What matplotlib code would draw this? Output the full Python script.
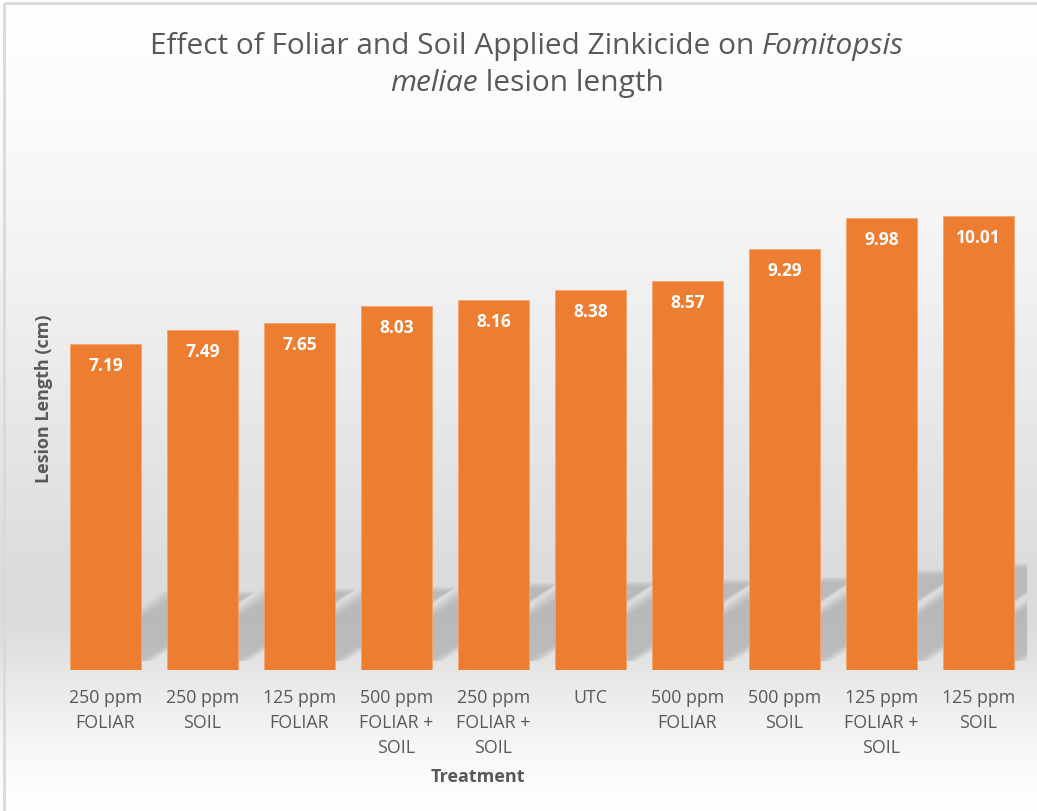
import numpy as np
import matplotlib
matplotlib.use("Agg")
import matplotlib.pyplot as plt
from matplotlib.patches import Polygon, Rectangle
from matplotlib.offsetbox import TextArea, HPacker, VPacker, AnchoredOffsetbox

# data
treatments = ["250 ppm\nFOLIAR", "250 ppm\nSOIL", "125 ppm\nFOLIAR",
              "500 ppm\nFOLIAR +\nSOIL", "250 ppm\nFOLIAR +\nSOIL", "UTC",
              "500 ppm\nFOLIAR", "500 ppm\nSOIL", "125 ppm\nFOLIAR +\nSOIL",
              "125 ppm\nSOIL"]
lesion_cm = [7.19, 7.49, 7.65, 8.03, 8.16, 8.38, 8.57, 9.29, 9.98, 10.01]

FONT = ["Open Sans", "DejaVu Sans"]
GREY_TXT = "#595959"
ORANGE = "#ED7D31"
W, H = 1037, 811

fig = plt.figure(figsize=(W / 100, H / 100), dpi=100)

# background gradient (Excel style "floor" look)
bg = fig.add_axes([0, 0, 1, 1], zorder=-10)
stops_y = [0, 120, 300, 450, 560, 620, 672, 700, 760, 811]
stops_v = [255, 251, 240, 229, 221, 219, 230, 237, 249, 255]
col = np.interp(np.arange(H), stops_y, stops_v) / 255.0
img = np.repeat(col[:, None], 4, axis=1)
bg.imshow(np.dstack([img, img, img]), aspect="auto", extent=[0, W, H, 0])
bg.add_patch(Rectangle((4, 3), W + 10, H + 10, fill=False, edgecolor="#d9d9d9", lw=2))
bg.set_xlim(0, W)
bg.set_ylim(H, 0)
bg.axis("off")

ax = fig.add_axes([57 / W, 141 / H, 970 / W, 544 / H])
ax.set_facecolor("none")
x = np.arange(len(lesion_cm))
bw = 0.73

# diagonal perspective shadows, soft edges from stacked translucent layers
for xi, v in zip(x, lesion_cm):
    dx, dh = 0.15 * v, 0.225 * v
    for k in np.linspace(0.12, 0.0, 7):
        xl, xr = xi - bw / 2, xi + bw / 2 + k
        poly = Polygon([(xl, 0.2), (xr, 0.2), (xr + dx, dh + k), (xl + dx - k, dh + k)],
                       closed=True, facecolor="#9a9a9a", edgecolor="none",
                       alpha=0.09, zorder=1)
        ax.add_patch(poly)

bars = ax.bar(x, lesion_cm, width=bw, color=ORANGE, edgecolor="#f2a56e",
              linewidth=0.6, zorder=3)
for b, v in zip(bars, lesion_cm):
    ax.annotate(f"{v:.2f}", (b.get_x() + b.get_width() / 2, v),
                xytext=(0, -22), textcoords="offset pixels",
                ha="center", va="center", color="white",
                fontsize=12.5, fontweight="bold", family=FONT, zorder=4)

ax.set_xlim(-0.5, len(lesion_cm) - 0.5)
ax.set_ylim(0, 12)
ax.set_xticks(x)
ax.set_xticklabels(treatments, family=FONT, fontsize=12.8, color=GREY_TXT,
                   linespacing=1.5)
ax.tick_params(axis="x", length=0, pad=14)
ax.set_yticks([])
for s in ax.spines.values():
    s.set_visible(False)

fig.text(478 / W, 1 - 777 / H, "Treatment", ha="center", va="center",
         family=FONT, fontsize=13, fontweight="bold", color=GREY_TXT)
fig.text(44 / W, 1 - 399 / H, "Lesion Length (cm)", ha="center", va="center",
         rotation=90, family=FONT, fontsize=13, fontweight="bold", color=GREY_TXT)

# title with italic species name
tp = dict(family=FONT, fontsize=21.5, color=GREY_TXT)
ti = dict(tp, style="italic")
line1 = HPacker(children=[TextArea("Effect of Foliar and Soil Applied Zinkicide on ", textprops=tp),
                          TextArea("Fomitopsis", textprops=ti)], align="baseline", pad=0, sep=0)
line2 = HPacker(children=[TextArea("meliae", textprops=ti),
                          TextArea(" lesion length", textprops=tp)], align="baseline", pad=0, sep=0)
title = VPacker(children=[line1, line2], align="center", pad=0, sep=6)
anch = AnchoredOffsetbox(loc="center", child=title, frameon=False,
                         bbox_to_anchor=(527 / W, 1 - 65 / H),
                         bbox_transform=fig.transFigure, pad=0, borderpad=0)
fig.add_artist(anch)

fig.savefig("out.png", dpi=100)
